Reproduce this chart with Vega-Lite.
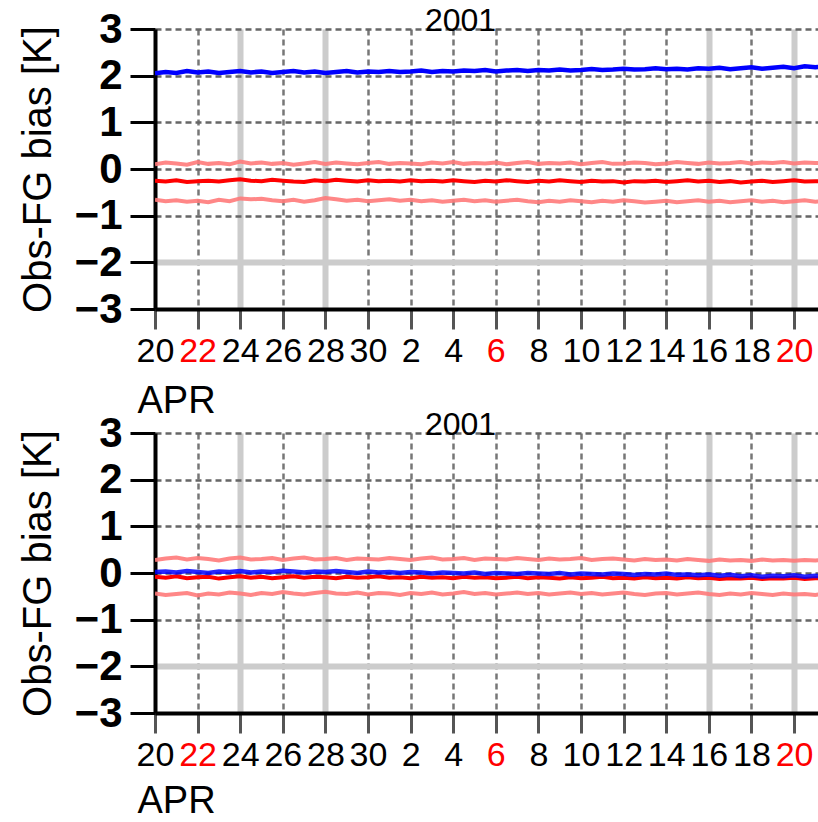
{
  "$schema": "https://vega.github.io/schema/vega-lite/v6.json",
  "background": "white",
  "padding": {"left": 18, "top": 5, "right": 0, "bottom": 0},
  "spacing": -11,
  "config": {
    "view": {"stroke": null},
    "font": "Liberation Sans",
    "title": {"font": "Liberation Sans", "fontSize": 32, "fontWeight": "normal", "color": "#000000", "anchor": "middle", "dx": -26, "frame": "group"}
  },
  "datasets": {
    "bias": [
      {"t": "2001-04-20T00:00", "b1": 2.05, "u1": 0.10, "m1": -0.25, "l1": -0.66, "b2": 0.02, "u2": 0.28, "m2": -0.08, "l2": -0.44},
      {"t": "2001-04-20T12:00", "b1": 2.08, "u1": 0.14, "m1": -0.27, "l1": -0.69, "b2": 0.03, "u2": 0.31, "m2": -0.10, "l2": -0.47},
      {"t": "2001-04-21T00:00", "b1": 2.06, "u1": 0.12, "m1": -0.24, "l1": -0.67, "b2": 0.01, "u2": 0.33, "m2": -0.07, "l2": -0.45},
      {"t": "2001-04-21T12:00", "b1": 2.10, "u1": 0.09, "m1": -0.28, "l1": -0.70, "b2": 0.04, "u2": 0.29, "m2": -0.11, "l2": -0.43},
      {"t": "2001-04-22T00:00", "b1": 2.07, "u1": 0.15, "m1": -0.26, "l1": -0.68, "b2": 0.02, "u2": 0.32, "m2": -0.09, "l2": -0.48},
      {"t": "2001-04-22T12:00", "b1": 2.09, "u1": 0.11, "m1": -0.25, "l1": -0.71, "b2": 0.00, "u2": 0.30, "m2": -0.08, "l2": -0.44},
      {"t": "2001-04-23T00:00", "b1": 2.06, "u1": 0.13, "m1": -0.27, "l1": -0.66, "b2": 0.03, "u2": 0.27, "m2": -0.12, "l2": -0.46},
      {"t": "2001-04-23T12:00", "b1": 2.08, "u1": 0.10, "m1": -0.24, "l1": -0.69, "b2": 0.02, "u2": 0.31, "m2": -0.09, "l2": -0.42},
      {"t": "2001-04-24T00:00", "b1": 2.10, "u1": 0.16, "m1": -0.22, "l1": -0.63, "b2": 0.04, "u2": 0.33, "m2": -0.07, "l2": -0.44},
      {"t": "2001-04-24T12:00", "b1": 2.07, "u1": 0.12, "m1": -0.25, "l1": -0.65, "b2": 0.01, "u2": 0.29, "m2": -0.10, "l2": -0.47},
      {"t": "2001-04-25T00:00", "b1": 2.09, "u1": 0.14, "m1": -0.26, "l1": -0.64, "b2": 0.03, "u2": 0.30, "m2": -0.08, "l2": -0.43},
      {"t": "2001-04-25T12:00", "b1": 2.06, "u1": 0.11, "m1": -0.23, "l1": -0.67, "b2": 0.02, "u2": 0.32, "m2": -0.11, "l2": -0.45},
      {"t": "2001-04-26T00:00", "b1": 2.08, "u1": 0.13, "m1": -0.25, "l1": -0.69, "b2": 0.05, "u2": 0.28, "m2": -0.09, "l2": -0.41},
      {"t": "2001-04-26T12:00", "b1": 2.10, "u1": 0.09, "m1": -0.27, "l1": -0.66, "b2": 0.03, "u2": 0.31, "m2": -0.07, "l2": -0.44},
      {"t": "2001-04-27T00:00", "b1": 2.07, "u1": 0.12, "m1": -0.28, "l1": -0.70, "b2": 0.01, "u2": 0.33, "m2": -0.10, "l2": -0.46},
      {"t": "2001-04-27T12:00", "b1": 2.09, "u1": 0.15, "m1": -0.24, "l1": -0.67, "b2": 0.03, "u2": 0.29, "m2": -0.08, "l2": -0.43},
      {"t": "2001-04-28T00:00", "b1": 2.06, "u1": 0.11, "m1": -0.26, "l1": -0.62, "b2": 0.02, "u2": 0.30, "m2": -0.09, "l2": -0.40},
      {"t": "2001-04-28T12:00", "b1": 2.08, "u1": 0.14, "m1": -0.23, "l1": -0.65, "b2": 0.04, "u2": 0.32, "m2": -0.11, "l2": -0.44},
      {"t": "2001-04-29T00:00", "b1": 2.10, "u1": 0.12, "m1": -0.25, "l1": -0.68, "b2": 0.02, "u2": 0.28, "m2": -0.08, "l2": -0.45},
      {"t": "2001-04-29T12:00", "b1": 2.07, "u1": 0.10, "m1": -0.27, "l1": -0.66, "b2": 0.00, "u2": 0.31, "m2": -0.10, "l2": -0.42},
      {"t": "2001-04-30T00:00", "b1": 2.09, "u1": 0.13, "m1": -0.24, "l1": -0.69, "b2": 0.03, "u2": 0.30, "m2": -0.09, "l2": -0.46},
      {"t": "2001-04-30T12:00", "b1": 2.08, "u1": 0.15, "m1": -0.26, "l1": -0.67, "b2": 0.01, "u2": 0.29, "m2": -0.07, "l2": -0.43},
      {"t": "2001-05-01T00:00", "b1": 2.10, "u1": 0.11, "m1": -0.25, "l1": -0.65, "b2": 0.02, "u2": 0.32, "m2": -0.10, "l2": -0.44},
      {"t": "2001-05-01T12:00", "b1": 2.08, "u1": 0.13, "m1": -0.27, "l1": -0.68, "b2": 0.00, "u2": 0.30, "m2": -0.09, "l2": -0.47},
      {"t": "2001-05-02T00:00", "b1": 2.09, "u1": 0.12, "m1": -0.24, "l1": -0.66, "b2": 0.02, "u2": 0.28, "m2": -0.11, "l2": -0.43},
      {"t": "2001-05-02T12:00", "b1": 2.11, "u1": 0.10, "m1": -0.26, "l1": -0.69, "b2": 0.01, "u2": 0.31, "m2": -0.08, "l2": -0.45},
      {"t": "2001-05-03T00:00", "b1": 2.08, "u1": 0.14, "m1": -0.25, "l1": -0.67, "b2": -0.01, "u2": 0.33, "m2": -0.10, "l2": -0.42},
      {"t": "2001-05-03T12:00", "b1": 2.10, "u1": 0.12, "m1": -0.27, "l1": -0.70, "b2": 0.01, "u2": 0.29, "m2": -0.09, "l2": -0.46},
      {"t": "2001-05-04T00:00", "b1": 2.09, "u1": 0.15, "m1": -0.24, "l1": -0.68, "b2": 0.00, "u2": 0.30, "m2": -0.11, "l2": -0.44},
      {"t": "2001-05-04T12:00", "b1": 2.11, "u1": 0.11, "m1": -0.26, "l1": -0.66, "b2": -0.01, "u2": 0.32, "m2": -0.08, "l2": -0.41},
      {"t": "2001-05-05T00:00", "b1": 2.10, "u1": 0.13, "m1": -0.28, "l1": -0.69, "b2": 0.01, "u2": 0.28, "m2": -0.10, "l2": -0.45},
      {"t": "2001-05-05T12:00", "b1": 2.12, "u1": 0.12, "m1": -0.25, "l1": -0.67, "b2": -0.02, "u2": 0.31, "m2": -0.09, "l2": -0.43},
      {"t": "2001-05-06T00:00", "b1": 2.09, "u1": 0.14, "m1": -0.27, "l1": -0.70, "b2": 0.00, "u2": 0.30, "m2": -0.11, "l2": -0.46},
      {"t": "2001-05-06T12:00", "b1": 2.11, "u1": 0.10, "m1": -0.24, "l1": -0.68, "b2": -0.01, "u2": 0.29, "m2": -0.10, "l2": -0.44},
      {"t": "2001-05-07T00:00", "b1": 2.12, "u1": 0.13, "m1": -0.26, "l1": -0.66, "b2": -0.02, "u2": 0.32, "m2": -0.08, "l2": -0.42},
      {"t": "2001-05-07T12:00", "b1": 2.10, "u1": 0.15, "m1": -0.28, "l1": -0.69, "b2": 0.00, "u2": 0.30, "m2": -0.11, "l2": -0.45},
      {"t": "2001-05-08T00:00", "b1": 2.12, "u1": 0.11, "m1": -0.25, "l1": -0.71, "b2": -0.01, "u2": 0.28, "m2": -0.09, "l2": -0.43},
      {"t": "2001-05-08T12:00", "b1": 2.11, "u1": 0.13, "m1": -0.27, "l1": -0.68, "b2": -0.02, "u2": 0.31, "m2": -0.10, "l2": -0.46},
      {"t": "2001-05-09T00:00", "b1": 2.13, "u1": 0.12, "m1": -0.24, "l1": -0.70, "b2": 0.00, "u2": 0.29, "m2": -0.12, "l2": -0.44},
      {"t": "2001-05-09T12:00", "b1": 2.11, "u1": 0.14, "m1": -0.26, "l1": -0.67, "b2": -0.03, "u2": 0.30, "m2": -0.09, "l2": -0.42},
      {"t": "2001-05-10T00:00", "b1": 2.12, "u1": 0.10, "m1": -0.28, "l1": -0.69, "b2": -0.01, "u2": 0.32, "m2": -0.11, "l2": -0.45},
      {"t": "2001-05-10T12:00", "b1": 2.14, "u1": 0.13, "m1": -0.25, "l1": -0.71, "b2": -0.02, "u2": 0.28, "m2": -0.10, "l2": -0.43},
      {"t": "2001-05-11T00:00", "b1": 2.12, "u1": 0.15, "m1": -0.27, "l1": -0.68, "b2": -0.03, "u2": 0.30, "m2": -0.08, "l2": -0.46},
      {"t": "2001-05-11T12:00", "b1": 2.13, "u1": 0.11, "m1": -0.26, "l1": -0.70, "b2": -0.01, "u2": 0.31, "m2": -0.11, "l2": -0.44},
      {"t": "2001-05-12T00:00", "b1": 2.15, "u1": 0.12, "m1": -0.29, "l1": -0.67, "b2": -0.02, "u2": 0.29, "m2": -0.10, "l2": -0.42},
      {"t": "2001-05-12T12:00", "b1": 2.13, "u1": 0.14, "m1": -0.26, "l1": -0.69, "b2": -0.04, "u2": 0.27, "m2": -0.12, "l2": -0.45},
      {"t": "2001-05-13T00:00", "b1": 2.14, "u1": 0.13, "m1": -0.27, "l1": -0.72, "b2": -0.02, "u2": 0.30, "m2": -0.09, "l2": -0.47},
      {"t": "2001-05-13T12:00", "b1": 2.16, "u1": 0.10, "m1": -0.25, "l1": -0.70, "b2": -0.03, "u2": 0.28, "m2": -0.11, "l2": -0.44},
      {"t": "2001-05-14T00:00", "b1": 2.14, "u1": 0.12, "m1": -0.28, "l1": -0.68, "b2": -0.01, "u2": 0.29, "m2": -0.10, "l2": -0.43},
      {"t": "2001-05-14T12:00", "b1": 2.15, "u1": 0.15, "m1": -0.26, "l1": -0.71, "b2": -0.04, "u2": 0.27, "m2": -0.12, "l2": -0.46},
      {"t": "2001-05-15T00:00", "b1": 2.13, "u1": 0.13, "m1": -0.24, "l1": -0.69, "b2": -0.03, "u2": 0.30, "m2": -0.09, "l2": -0.44},
      {"t": "2001-05-15T12:00", "b1": 2.16, "u1": 0.11, "m1": -0.27, "l1": -0.67, "b2": -0.05, "u2": 0.28, "m2": -0.11, "l2": -0.42},
      {"t": "2001-05-16T00:00", "b1": 2.15, "u1": 0.14, "m1": -0.25, "l1": -0.70, "b2": -0.03, "u2": 0.26, "m2": -0.10, "l2": -0.45},
      {"t": "2001-05-16T12:00", "b1": 2.17, "u1": 0.12, "m1": -0.28, "l1": -0.68, "b2": -0.06, "u2": 0.29, "m2": -0.13, "l2": -0.47},
      {"t": "2001-05-17T00:00", "b1": 2.14, "u1": 0.13, "m1": -0.26, "l1": -0.71, "b2": -0.04, "u2": 0.27, "m2": -0.11, "l2": -0.44},
      {"t": "2001-05-17T12:00", "b1": 2.16, "u1": 0.15, "m1": -0.29, "l1": -0.69, "b2": -0.07, "u2": 0.28, "m2": -0.12, "l2": -0.46},
      {"t": "2001-05-18T00:00", "b1": 2.18, "u1": 0.12, "m1": -0.27, "l1": -0.67, "b2": -0.05, "u2": 0.26, "m2": -0.10, "l2": -0.43},
      {"t": "2001-05-18T12:00", "b1": 2.15, "u1": 0.14, "m1": -0.25, "l1": -0.70, "b2": -0.08, "u2": 0.29, "m2": -0.13, "l2": -0.45},
      {"t": "2001-05-19T00:00", "b1": 2.17, "u1": 0.13, "m1": -0.28, "l1": -0.68, "b2": -0.06, "u2": 0.27, "m2": -0.11, "l2": -0.47},
      {"t": "2001-05-19T12:00", "b1": 2.19, "u1": 0.15, "m1": -0.26, "l1": -0.71, "b2": -0.07, "u2": 0.28, "m2": -0.12, "l2": -0.44},
      {"t": "2001-05-20T00:00", "b1": 2.16, "u1": 0.12, "m1": -0.24, "l1": -0.69, "b2": -0.05, "u2": 0.26, "m2": -0.10, "l2": -0.46},
      {"t": "2001-05-20T12:00", "b1": 2.20, "u1": 0.14, "m1": -0.27, "l1": -0.67, "b2": -0.08, "u2": 0.28, "m2": -0.13, "l2": -0.45},
      {"t": "2001-05-21T00:00", "b1": 2.18, "u1": 0.13, "m1": -0.26, "l1": -0.70, "b2": -0.06, "u2": 0.27, "m2": -0.11, "l2": -0.47},
      {"t": "2001-05-21T12:00", "b1": 2.21, "u1": 0.12, "m1": -0.28, "l1": -0.68, "b2": -0.07, "u2": 0.29, "m2": -0.12, "l2": -0.44}
    ]
  },
  "vconcat": [
    {
      "width": 663,
      "height": 280,
      "title": {"text": "2001", "offset": -30},
      "data": {"name": "bias"},
      "transform": [{"fold": ["u1", "l1", "m1", "b1"], "as": ["series", "value"]}],
      "encoding": {
        "x": {
          "field": "t", "type": "temporal",
          "scale": {"domain": [{"year": 2001, "month": 4, "date": 20}, {"year": 2001, "month": 5, "date": 21, "hours": 3}]},
          "axis": {
            "values": [{"year": 2001, "month": 4, "date": 20}, {"year": 2001, "month": 4, "date": 22}, {"year": 2001, "month": 4, "date": 24}, {"year": 2001, "month": 4, "date": 26}, {"year": 2001, "month": 4, "date": 28}, {"year": 2001, "month": 4, "date": 30}, {"year": 2001, "month": 5, "date": 2}, {"year": 2001, "month": 5, "date": 4}, {"year": 2001, "month": 5, "date": 6}, {"year": 2001, "month": 5, "date": 8}, {"year": 2001, "month": 5, "date": 10}, {"year": 2001, "month": 5, "date": 12}, {"year": 2001, "month": 5, "date": 14}, {"year": 2001, "month": 5, "date": 16}, {"year": 2001, "month": 5, "date": 18}, {"year": 2001, "month": 5, "date": 20}],
            "format": "%-d",
            "labelFont": "Liberation Sans", "labelFontSize": 34, "labelPadding": 5, "labelOverlap": false, "labelFlush": false, "labelBound": false,
            "labelColor": {"condition": {"test": "day(datum.value)==0", "value": "#ff0000"}, "value": "#000000"},
            "title": "APR", "titleFont": "Liberation Sans", "titleFontSize": 38, "titleFontWeight": "normal", "titleColor": "#000000",
            "titleX": -18, "titleY": 103, "titleAlign": "left", "titleBaseline": "alphabetic", "titleAnchor": "start",
            "tickSize": 20, "tickWidth": 3, "tickColor": "#555555",
            "domainColor": "#000000", "domainWidth": 4,
            "grid": true,
            "gridColor": {"condition": {"test": "(month(datum.value)==3&&(date(datum.value)==24||date(datum.value)==28))||(month(datum.value)==4&&(date(datum.value)==16||date(datum.value)==20))", "value": "#cccccc"}, "value": "#777777"},
            "gridWidth": {"condition": {"test": "(month(datum.value)==3&&(date(datum.value)==24||date(datum.value)==28))||(month(datum.value)==4&&(date(datum.value)==16||date(datum.value)==20))", "value": 6}, "value": 2.5},
            "gridDash": {"condition": {"test": "(month(datum.value)==3&&(date(datum.value)==24||date(datum.value)==28))||(month(datum.value)==4&&(date(datum.value)==16||date(datum.value)==20))", "value": []}, "value": [6, 4]}
          }
        },
        "y": {
          "field": "value", "type": "quantitative",
          "scale": {"domain": [-3, 3], "nice": false},
          "axis": {
            "values": [-3, -2, -1, 0, 1, 2, 3], "format": "d",
            "title": "Obs-FG bias [K]", "titleFont": "Liberation Sans", "titleFontSize": 40, "titleFontWeight": "normal", "titleColor": "#000000", "titlePadding": 16,
            "labelFont": "Liberation Sans", "labelFontSize": 42, "labelFontWeight": "bold", "labelColor": "#000000", "labelPadding": 8, "labelFlush": false, "labelBound": false,
            "tickSize": 25, "tickWidth": 3, "tickColor": "#000000",
            "domainColor": "#000000", "domainWidth": 4,
            "grid": true,
            "gridColor": {"condition": {"test": "datum.value==-2", "value": "#cccccc"}, "value": "#666666"},
            "gridWidth": {"condition": {"test": "datum.value==-2", "value": 6}, "value": 2.5},
            "gridDash": {"condition": {"test": "datum.value==-2", "value": []}, "value": [6, 4]}
          }
        }
      },
      "layer": [
        {"transform": [{"filter": "datum.series=='u1'||datum.series=='l1'"}], "mark": {"type": "line", "color": "#ff7a7a", "strokeWidth": 4, "opacity": 0.9, "clip": true}, "encoding": {"detail": {"field": "series"}}},
        {"transform": [{"filter": "datum.series=='m1'"}], "mark": {"type": "line", "color": "#ff0000", "strokeWidth": 4, "clip": true}},
        {"transform": [{"filter": "datum.series=='b1'"}], "mark": {"type": "line", "color": "#0000ff", "strokeWidth": 4.5, "clip": true}}
      ]
    },
    {
      "width": 663,
      "height": 280,
      "title": {"text": "2001", "offset": -30},
      "data": {"name": "bias"},
      "transform": [{"fold": ["u2", "l2", "m2", "b2"], "as": ["series", "value"]}],
      "encoding": {
        "x": {
          "field": "t", "type": "temporal",
          "scale": {"domain": [{"year": 2001, "month": 4, "date": 20}, {"year": 2001, "month": 5, "date": 21, "hours": 3}]},
          "axis": {
            "values": [{"year": 2001, "month": 4, "date": 20}, {"year": 2001, "month": 4, "date": 22}, {"year": 2001, "month": 4, "date": 24}, {"year": 2001, "month": 4, "date": 26}, {"year": 2001, "month": 4, "date": 28}, {"year": 2001, "month": 4, "date": 30}, {"year": 2001, "month": 5, "date": 2}, {"year": 2001, "month": 5, "date": 4}, {"year": 2001, "month": 5, "date": 6}, {"year": 2001, "month": 5, "date": 8}, {"year": 2001, "month": 5, "date": 10}, {"year": 2001, "month": 5, "date": 12}, {"year": 2001, "month": 5, "date": 14}, {"year": 2001, "month": 5, "date": 16}, {"year": 2001, "month": 5, "date": 18}, {"year": 2001, "month": 5, "date": 20}],
            "format": "%-d",
            "labelFont": "Liberation Sans", "labelFontSize": 34, "labelPadding": 5, "labelOverlap": false, "labelFlush": false, "labelBound": false,
            "labelColor": {"condition": {"test": "day(datum.value)==0", "value": "#ff0000"}, "value": "#000000"},
            "title": "APR", "titleFont": "Liberation Sans", "titleFontSize": 38, "titleFontWeight": "normal", "titleColor": "#000000",
            "titleX": -18, "titleY": 99, "titleAlign": "left", "titleBaseline": "alphabetic", "titleAnchor": "start",
            "tickSize": 20, "tickWidth": 3, "tickColor": "#555555",
            "domainColor": "#000000", "domainWidth": 4,
            "grid": true,
            "gridColor": {"condition": {"test": "(month(datum.value)==3&&(date(datum.value)==24||date(datum.value)==28))||(month(datum.value)==4&&(date(datum.value)==16||date(datum.value)==20))", "value": "#cccccc"}, "value": "#777777"},
            "gridWidth": {"condition": {"test": "(month(datum.value)==3&&(date(datum.value)==24||date(datum.value)==28))||(month(datum.value)==4&&(date(datum.value)==16||date(datum.value)==20))", "value": 6}, "value": 2.5},
            "gridDash": {"condition": {"test": "(month(datum.value)==3&&(date(datum.value)==24||date(datum.value)==28))||(month(datum.value)==4&&(date(datum.value)==16||date(datum.value)==20))", "value": []}, "value": [6, 4]}
          }
        },
        "y": {
          "field": "value", "type": "quantitative",
          "scale": {"domain": [-3, 3], "nice": false},
          "axis": {
            "values": [-3, -2, -1, 0, 1, 2, 3], "format": "d",
            "title": "Obs-FG bias [K]", "titleFont": "Liberation Sans", "titleFontSize": 40, "titleFontWeight": "normal", "titleColor": "#000000", "titlePadding": 16,
            "labelFont": "Liberation Sans", "labelFontSize": 42, "labelFontWeight": "bold", "labelColor": "#000000", "labelPadding": 8, "labelFlush": false, "labelBound": false,
            "tickSize": 25, "tickWidth": 3, "tickColor": "#000000",
            "domainColor": "#000000", "domainWidth": 4,
            "grid": true,
            "gridColor": {"condition": {"test": "datum.value==-2", "value": "#cccccc"}, "value": "#666666"},
            "gridWidth": {"condition": {"test": "datum.value==-2", "value": 6}, "value": 2.5},
            "gridDash": {"condition": {"test": "datum.value==-2", "value": []}, "value": [6, 4]}
          }
        }
      },
      "layer": [
        {"transform": [{"filter": "datum.series=='u2'||datum.series=='l2'"}], "mark": {"type": "line", "color": "#ff7a7a", "strokeWidth": 4, "opacity": 0.9, "clip": true}, "encoding": {"detail": {"field": "series"}}},
        {"transform": [{"filter": "datum.series=='m2'"}], "mark": {"type": "line", "color": "#ff0000", "strokeWidth": 4, "clip": true}},
        {"transform": [{"filter": "datum.series=='b2'"}], "mark": {"type": "line", "color": "#0000ff", "strokeWidth": 4.5, "opacity": 0.85, "clip": true}}
      ]
    }
  ]
}
